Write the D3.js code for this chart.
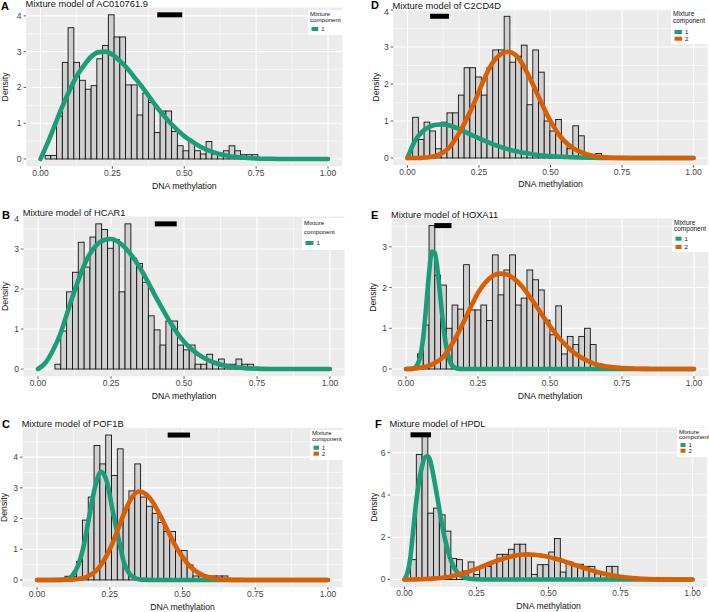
<!DOCTYPE html>
<html><head><meta charset="utf-8">
<script src="https://cdn.jsdelivr.net/npm/d3@7"></script>
<style>body{margin:0;background:#fff}svg{display:block}</style>
</head><body>
<svg id="c" width="709" height="612"></svg>
<script>
// ---------------- DATA ----------------
const panelLetters = ["A","B","C","D","E","F"];
const geneNames = ["AC010761.9","HCAR1","POF1B","C2CD4D","HOXA11","HPDL"];
const xTickValues = [0, 0.25, 0.5, 0.75, 1];
const xTickLabels = ["0.00","0.25","0.50","0.75","1.00"];
const yTicksA = [0,1,2,3,4];
const yTicksB = [0,1,2,3,4];
const yTicksC = [0,1,2,3,4];
const yTicksD = [0,1,2,3,4];
const yTicksE = [0,1,2,3];
const yTicksF = [0,2,4,6];
const binWidth = 0.02;
const binStarts = [0.016, 0.058, 0.096, 0.018, 0.04, 0.021];
const histA = [0.1,0.1,1.2,2.7,3.67,2.7,2.2,1.95,2.05,2.8,3.17,4.03,3.41,3.41,2.07,2.07,1.23,1.84,1.58,0.74,1.34,1.34,0.77,0.37,0.23,0.49,0.23,0.14,0.49,0.14,0.14,0.23,0.37,0.23,0.12,0.12,0.12];
const histB = [0.12,0.95,1.93,2.42,3.17,2.55,3.3,3.63,3.49,3.02,3.24,1.93,3.63,2.77,2.64,2.17,1.33,0.98,0.6,1.2,1.2,0.6,0.48,0.6,0.12,0.12,0.37,0.12,0.25,0.12,0.12,0.25,0.12,0.12];
const histC = [0.12,0.12,0.6,1.95,2.7,4.38,3.78,4.72,3.4,4.27,2.3,2.9,3.78,2.7,2.4,2.17,1.87,1.58,1.58,0.96,0.96,0.49,0.13,0.13,0.13,0.13,0.13,0.13];
const histD = [1.1,0.5,0.97,0.73,0.25,0.97,1.22,1.22,1.7,2.44,2.44,2.19,1.7,2.44,2.92,2.92,3.83,2.59,2.75,3.05,1.44,2.92,2.32,1.0,0.73,1.04,0.45,0.25,0.87,0.6,0.1,0.1,0.12];
const histE = [0.37,1.08,3.52,2.3,2.06,1.0,1.57,1.47,2.56,1.45,1.45,1.57,1.19,2.8,1.82,2.43,2.8,1.57,1.74,2.43,2.19,1.94,1.2,0.84,1.55,0.37,0.8,0.6,0.8,1.0,0.6,0.12];
const histF = [0.94,5.92,6.85,3.14,3.38,3.06,2.29,0.99,0.94,0.4,0.83,0.24,0.62,0.62,0.8,1.19,1.19,1.43,1.67,1.67,1.19,0.24,0.7,0.7,1.3,1.94,0.35,0.83,0.72,0.72,0.62,0.62,0.27,0.27,0.62,0.62];

// mixture component densities
const curveGrid = [0,0.025,0.05,0.075,0.1,0.125,0.15,0.175,0.2,0.225,0.25,0.275,0.3,0.325,0.35,0.375,0.4,0.425,0.45,0.475,0.5,0.525,0.55,0.575,0.6,0.65,0.7,0.75,0.8,0.85,0.9,0.95,1];
const comp1A = [0,0.45,0.95,1.45,1.9,2.3,2.6,2.85,2.98,3.0,2.92,2.75,2.55,2.3,2.05,1.78,1.5,1.25,1.02,0.82,0.64,0.5,0.37,0.27,0.19,0.09,0.04,0.015,0.005,0,0,0,0];
const comp1B = [0,0.15,0.45,0.85,1.4,1.95,2.45,2.85,3.1,3.22,3.25,3.18,3.02,2.8,2.52,2.2,1.85,1.52,1.2,0.92,0.68,0.5,0.36,0.25,0.17,0.07,0.03,0.01,0,0,0,0,0];
const gridC1 = [0,0.05,0.1,0.12,0.14,0.16,0.18,0.2,0.22,0.24,0.26,0.28,0.3,0.32,0.34,0.36,0.4,0.5,0.6,0.7,0.8,0.9,1];
const comp1C = [0,0,0.01,0.13,0.45,1.1,2.1,3.05,3.52,3.2,2.25,1.35,0.53,0.18,0.05,0.01,0,0,0,0,0,0,0];
const comp2C = [0,0,0,0,0.005,0.015,0.045,0.12,0.27,0.56,1.0,1.57,2.19,2.67,2.88,2.79,2.5,2.07,1.59,1.13,0.75,0.45,0.26,0.13,0.064,0.012,0.002,0,0,0,0,0,0];
const comp1D = [0,0.45,0.7,0.84,0.9,0.91,0.87,0.8,0.71,0.62,0.53,0.45,0.37,0.3,0.24,0.19,0.15,0.12,0.09,0.07,0.05,0.04,0.03,0.02,0.015,0.007,0.003,0.001,0,0,0,0,0];
const comp2D = [0,0,0.005,0.02,0.06,0.15,0.32,0.6,0.95,1.35,1.8,2.25,2.6,2.8,2.87,2.8,2.57,2.2,1.8,1.38,1.0,0.68,0.45,0.29,0.18,0.055,0.015,0.003,0,0,0,0,0];
const gridE1 = [0,0.02,0.03,0.04,0.05,0.06,0.07,0.08,0.09,0.1,0.11,0.12,0.13,0.14,0.15,0.16,0.17,0.18,0.2,0.25,0.3,0.4,0.5,0.6,0.7,0.8,0.9,1];
const comp1E = [0,0,0.03,0.11,0.33,0.79,1.53,2.35,2.88,2.85,2.39,1.71,1.04,0.54,0.24,0.09,0.03,0.01,0,0,0,0,0,0,0,0,0,0];
const comp2E = [0,0.01,0.03,0.07,0.15,0.27,0.5,0.8,1.15,1.52,1.87,2.12,2.28,2.34,2.32,2.22,2.05,1.82,1.57,1.3,1.05,0.82,0.62,0.45,0.32,0.14,0.06,0.025,0.008,0.002,0,0,0];
const gridF1 = [0,0.01,0.02,0.03,0.04,0.05,0.06,0.07,0.08,0.09,0.1,0.11,0.12,0.13,0.14,0.15,0.16,0.17,0.18,0.19,0.2,0.22,0.25,0.3,0.4,0.5,0.6,0.7,0.8,0.9,1];
const comp1F = [0,0.3,1.0,2.3,3.6,4.6,5.3,5.75,5.85,5.6,4.95,4.2,3.4,2.65,1.95,1.4,0.95,0.62,0.4,0.25,0.15,0.05,0.01,0,0,0,0,0,0,0,0];
const comp2F = [0,0,0.01,0.02,0.04,0.07,0.12,0.19,0.27,0.38,0.5,0.64,0.78,0.91,1.02,1.1,1.17,1.19,1.17,1.13,1.07,0.98,0.88,0.77,0.65,0.43,0.25,0.13,0.06,0.02,0.005,0,0];

// black interval bar drawn at the top of each panel
const intervalLo = [0.406, 0.40, 0.449, 0.079, 0.098, 0.021];
const intervalHi = [0.493, 0.475, 0.526, 0.145, 0.158, 0.092];
const componentNames = ["1","2"];
const componentColors = ["#1b9e77","#d95f02"];

// table built from the arrays above
const panels = [
  {hist: histA, yTicks: yTicksA, comps: [{x: curveGrid, y: comp1A}]},
  {hist: histB, yTicks: yTicksB, comps: [{x: curveGrid, y: comp1B}]},
  {hist: histC, yTicks: yTicksC, comps: [{x: gridC1, y: comp1C}, {x: curveGrid, y: comp2C}]},
  {hist: histD, yTicks: yTicksD, comps: [{x: curveGrid, y: comp1D}, {x: curveGrid, y: comp2D}]},
  {hist: histE, yTicks: yTicksE, comps: [{x: gridE1, y: comp1E}, {x: curveGrid, y: comp2E}]},
  {hist: histF, yTicks: yTicksF, comps: [{x: gridF1, y: comp1F}, {x: curveGrid, y: comp2F}]}
];

// ---------------- LAYOUT ----------------
const frames = [
  {l:26.1, r:342.4, t:7.6,   b:166.2, lx:1,   ly:9.5,   dx:5},
  {l:23.4, r:344.6, t:216.6, b:376.3, lx:2,   ly:218.5, dx:4.5},
  {l:22.5, r:342.5, t:427.8, b:587.2, lx:2,   ly:427.5, dx:4},
  {l:393.2,r:707.8, t:9.2,   b:165.1, lx:371, ly:8.5,   dx:376},
  {l:391.6,r:708.4, t:218.4, b:376.2, lx:371, ly:218.5, dx:372.5},
  {l:390.1,r:706.9, t:427.6, b:586.7, lx:375, ly:427.5, dx:374}
];
const legends = [
  {x:308, y:10,  w:36, h:25, fs:6.2, t1:6,   t2:12,   k0:17,   kdy:6.5, kw:6.7},
  {x:302, y:218, w:43, h:32, fs:6.2, t1:7,   t2:15.5, k0:23,   kdy:7,   kw:8},
  {x:310, y:430, w:35, h:30, fs:6,   t1:5.4, t2:11,   k0:15.7, kdy:6,   kw:5.5},
  {x:671, y:10,  w:38, h:34, fs:6.5, t1:6,   t2:12.7, k0:20,   kdy:6.7, kw:7.5},
  {x:672, y:218, w:37, h:34, fs:6.5, t1:6.7, t2:13.3, k0:18.7, kdy:8.3, kw:6},
  {x:677, y:428, w:32, h:29, fs:6.2, t1:5.6, t2:11.2, k0:15,   kdy:5.7, kw:5}
];
const FONT = "'Liberation Sans', Arial, Helvetica, sans-serif";
const svg = d3.select("#c");

panels.forEach((p, i) => {
  const f = frames[i];
  const g = svg.append("g");
  const ymax = d3.max(p.hist);
  const x = d3.scaleLinear().domain([-0.05, 1.05]).range([f.l, f.r]);
  const y = d3.scaleLinear().domain([-0.05 * ymax, 1.05 * ymax]).range([f.b, f.t]);
  const step = p.yTicks[1] - p.yTicks[0];

  // panel background
  g.append("rect").attr("x", f.l).attr("y", f.t).attr("width", f.r - f.l).attr("height", f.b - f.t).attr("fill", "#ebebeb");
  // minor grid
  const xMinor = xTickValues.slice(0, -1).map((v, k) => (v + xTickValues[k + 1]) / 2);
  g.selectAll(".xm").data(xMinor).join("line").attr("x1", d => x(d)).attr("x2", d => x(d)).attr("y1", f.t).attr("y2", f.b).attr("stroke", "#fff").attr("stroke-width", 0.55);
  const yMinor = d3.range(step / 2, 1.05 * ymax, step);
  g.selectAll(".ym").data(yMinor).join("line").attr("x1", f.l).attr("x2", f.r).attr("y1", d => y(d)).attr("y2", d => y(d)).attr("stroke", "#fff").attr("stroke-width", 0.55);
  // major grid
  g.selectAll(".xM").data(xTickValues).join("line").attr("x1", d => x(d)).attr("x2", d => x(d)).attr("y1", f.t).attr("y2", f.b).attr("stroke", "#fff").attr("stroke-width", 1.1);
  const yIn = p.yTicks.filter(v => v <= 1.05 * ymax);
  g.selectAll(".yM").data(yIn).join("line").attr("x1", f.l).attr("x2", f.r).attr("y1", d => y(d)).attr("y2", d => y(d)).attr("stroke", "#fff").attr("stroke-width", 1.1);

  // histogram
  g.selectAll(".bar").data(p.hist).join("rect")
    .attr("x", (d, k) => x(binStarts[i] + k * binWidth))
    .attr("width", x(binWidth) - x(0))
    .attr("y", d => y(d))
    .attr("height", d => y(0) - y(d))
    .attr("fill", "#d0d0d0").attr("stroke", "#111").attr("stroke-width", 0.9);

  // mixture component curves
  p.comps.forEach((c, k) => {
    const pts = c.x.map((xv, j) => [xv, c.y[j]]);
    g.append("path").datum(pts)
      .attr("d", d3.line().x(d => x(d[0])).y(d => y(d[1])).curve(d3.curveMonotoneX))
      .attr("fill", "none").attr("stroke", componentColors[k]).attr("stroke-width", 4.6)
      .attr("stroke-linecap", "round").attr("stroke-linejoin", "round");
  });

  // interval bar
  g.append("line").attr("x1", x(intervalLo[i])).attr("x2", x(intervalHi[i]))
    .attr("y1", y(ymax)).attr("y2", y(ymax)).attr("stroke", "#000").attr("stroke-width", 5);

  // x axis
  g.selectAll(".xt").data(xTickValues).join("line").attr("x1", d => x(d)).attr("x2", d => x(d)).attr("y1", f.b).attr("y2", f.b + 2.5).attr("stroke", "#333").attr("stroke-width", 0.8);
  g.selectAll(".xl").data(xTickValues).join("text").attr("x", d => x(d)).attr("y", f.b + 9.5)
    .attr("text-anchor", "middle").attr("font-family", FONT).attr("font-size", 8.5).attr("fill", "#444")
    .text((d, k) => xTickLabels[k]);
  g.append("text").attr("x", (x(0) + x(1)) / 2).attr("y", f.b + 22.3).attr("text-anchor", "middle")
    .attr("font-family", FONT).attr("font-size", 8.7).attr("fill", "#111").text("DNA methylation");

  // y axis
  const yLab = p.yTicks.filter(v => y(v) >= f.t - 10);
  g.selectAll(".ytk").data(yIn).join("line").attr("x1", f.l - 2.5).attr("x2", f.l).attr("y1", d => y(d)).attr("y2", d => y(d)).attr("stroke", "#333").attr("stroke-width", 0.8);
  g.selectAll(".yl").data(yLab).join("text").attr("x", f.l - 4.5).attr("y", d => Math.max(y(d), f.t + 2.5) + 3)
    .attr("text-anchor", "end").attr("font-family", FONT).attr("font-size", 8.5).attr("fill", "#444").text(d => d);
  g.append("text").attr("transform", `translate(${f.dx},${(f.t + f.b) / 2}) rotate(-90)`)
    .attr("text-anchor", "middle").attr("dominant-baseline", "central")
    .attr("font-family", FONT).attr("font-size", 8.7).attr("fill", "#111").text("Density");

  // title + letter
  g.append("text").attr("x", f.l - 0.7).attr("y", f.t - 0.6).attr("font-family", FONT).attr("font-size", 9.3).attr("fill", "#111")
    .text("Mixture model of " + geneNames[i]);
  g.append("text").attr("x", f.lx).attr("y", f.ly).attr("font-family", FONT).attr("font-size", 11).attr("font-weight", "bold").attr("fill", "#000")
    .text(panelLetters[i]);

  // legend
  const L = legends[i];
  const lg = svg.append("g");
  lg.append("rect").attr("x", L.x).attr("y", L.y).attr("width", L.w).attr("height", L.h).attr("fill", "#fff");
  lg.append("text").attr("x", L.x + 2).attr("y", L.y + L.t1).attr("font-family", FONT).attr("font-size", L.fs).attr("fill", "#111").text("Mixture");
  lg.append("text").attr("x", L.x + 2).attr("y", L.y + L.t2).attr("font-family", FONT).attr("font-size", L.fs).attr("fill", "#111").text("component");
  p.comps.forEach((c, k) => {
    const ky = L.y + L.k0 + k * L.kdy;
    lg.append("rect").attr("x", L.x + 3.5).attr("y", ky).attr("width", L.kw).attr("height", 4).attr("fill", componentColors[k]);
    lg.append("text").attr("x", L.x + 3.5 + L.kw + 3).attr("y", ky + 3.8).attr("font-family", FONT).attr("font-size", L.fs * 0.95).attr("fill", "#111").text(componentNames[k]);
  });
});
</script>
</body></html>
